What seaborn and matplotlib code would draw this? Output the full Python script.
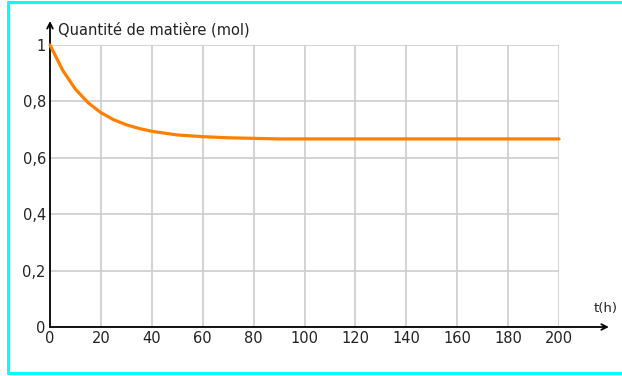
import matplotlib
matplotlib.use("Agg")
import matplotlib.pyplot as plt
from matplotlib.lines import Line2D
import seaborn as sns
import pandas as pd

# values
temps = [0, 5, 10, 15, 20, 25, 30, 35, 40, 50, 60, 70, 80, 90, 100, 150, 200]
quantite = [1.0, 0.91, 0.843, 0.795, 0.76, 0.735, 0.717, 0.704, 0.694, 0.681, 0.675, 0.671, 0.669, 0.667, 0.667, 0.667, 0.667]

x_ticks = [0, 20, 40, 60, 80, 100, 120, 140, 160, 180, 200]
y_ticks = [0, 0.2, 0.4, 0.6, 0.8, 1]
y_labels = ["0", "0,2", "0,4", "0,6", "0,8", "1"]

df = pd.DataFrame({"t": temps, "n": quantite})

sns.set_style("white")
plt.rcParams["font.family"] = ["DejaVu Sans"]

W, H = 622, 376
fig = plt.figure(figsize=(W / 100, H / 100), dpi=100)
ax = fig.add_axes([50 / W, 49 / H, 509 / W, 282 / H])

sns.lineplot(data=df, x="t", y="n", color="#ff8000", linewidth=2.3, ax=ax, clip_on=False, zorder=5)

ax.set_xlim(0, 200)
ax.set_ylim(0, 1)
ax.set_xticks(x_ticks)
ax.set_xticklabels([str(v) for v in x_ticks], fontsize=10.5, color="#222222")
ax.set_yticks(y_ticks)
ax.set_yticklabels(y_labels, fontsize=10.5, color="#222222")
ax.tick_params(length=0, pad=3)
ax.set_xlabel("")
ax.set_ylabel("")
ax.grid(True, color="#cccccc", linewidth=1.2)
for s in ax.spines.values():
    s.set_visible(False)

# axes with arrows
ax.annotate("", xy=(1.098, 0), xytext=(0, 0), xycoords="axes fraction",
            arrowprops=dict(arrowstyle="->", color="black", lw=1.3, shrinkA=0, shrinkB=0))
ax.annotate("", xy=(0, 1.085), xytext=(0, 0), xycoords="axes fraction",
            arrowprops=dict(arrowstyle="->", color="black", lw=1.3, shrinkA=0, shrinkB=0))

ax.text(0.016, 1.053, "Quantité de matière (mol)", transform=ax.transAxes,
        fontsize=10.5, va="center", ha="left", color="#222222")
ax.text(1.068, 0.067, "t(h)", transform=ax.transAxes,
        fontsize=9.5, va="center", ha="left", color="#222222")

# cyan frame (left, top, bottom)
c = "#00ffff"
fig.add_artist(Line2D([8 / W, 8 / W], [1 - 2 / H, 1 - 373 / H], color=c, lw=2.2, transform=fig.transFigure))
fig.add_artist(Line2D([8 / W, 1], [1 - 2 / H, 1 - 2 / H], color=c, lw=2.2, transform=fig.transFigure))
fig.add_artist(Line2D([8 / W, 1], [1 - 373 / H, 1 - 373 / H], color=c, lw=2.2, transform=fig.transFigure))

fig.savefig("out.png", dpi=100)
